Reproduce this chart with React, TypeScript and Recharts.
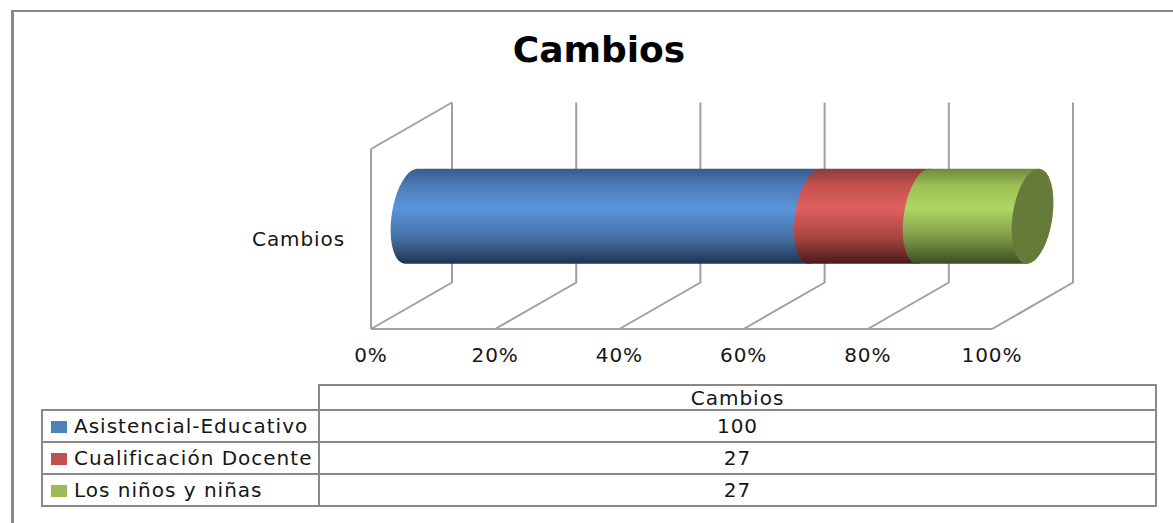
import { Bar, BarChart, CartesianGrid, XAxis, YAxis } from "recharts"

const categories = ["Cambios"]
const seriesNames = ["Asistencial-Educativo", "Cualificación Docente", "Los niños y niñas"]
const seriesValues = [[100], [27], [27]]
const percentTicks = [0, 0.2, 0.4, 0.6, 0.8, 1]

const swatchColors = ["#4f81bd", "#c0504d", "#9bbb59"]
// top edge, upper shade, highlight, lower shade, bottom edge
const cylinderShades = [
  ["#385b8c", "#4d7db8", "#5a94da", "#4672a8", "#1f3354"],
  ["#8a3c3a", "#c4524f", "#de5f5e", "#a84643", "#4a1a19"],
  ["#6c8a3f", "#9cc056", "#b0d665", "#7d9a48", "#3c4d22"],
]
const capColor = "#667a39"

const rows = categories.map((name, i) => {
  const row: Record<string, string | number> = { name }
  seriesNames.forEach((s, j) => {
    row[s] = seriesValues[j][i]
  })
  return row
})

const FONT = "'DejaVu Sans', sans-serif"
const TEXT = "#161616"
const LINE = "#a0a0a0"
const BORDER = "#888888"

// depth of the 3D box, front plane to back wall
const DEPTH_X = 81
const DEPTH_Y = -46.5

const CAP_RX = 20
const CAP_SKEW = -6

function capArc(cx: number, cy: number, ry: number, from: number, to: number) {
  const pts: string[] = []
  for (let i = 0; i <= 32; i++) {
    const t = from + ((to - from) * i) / 32
    const px = cx + CAP_RX * Math.cos(t) + CAP_SKEW * Math.sin(t)
    const py = cy + ry * Math.sin(t)
    pts.push(`${px.toFixed(2)} ${py.toFixed(2)}`)
  }
  return pts
}

function cylinderShape(index: number) {
  const isLast = index === seriesNames.length - 1
  return (props: any) => {
    const { x, y, width, height } = props
    const c0 = x + DEPTH_X / 2
    const c1 = x + width + DEPTH_X / 2
    const cy = y + height / 2 + DEPTH_Y / 2
    const ry = height / 2
    const left = capArc(c0, cy, ry, Math.PI / 2, (3 * Math.PI) / 2)
    const right = capArc(c1, cy, ry, -Math.PI / 2, Math.PI / 2)
    const body = `M${left.join("L")}L${right.join("L")}Z`
    const cap = `M${capArc(c1, cy, ry, 0, 2 * Math.PI).join("L")}Z`
    return (
      <g>
        <path d={body} fill={`url(#cyl-${index})`} />
        {isLast && <path d={cap} fill={capColor} />}
      </g>
    )
  }
}

// gridline running along the floor and up the back wall
function WallLine(props: any) {
  const { x1, y1, y2 } = props
  const top = Math.min(y1, y2)
  const floor = Math.max(y1, y2)
  const isFirst = props.index === 0
  return (
    <g key={props.key}>
      <path
        d={`M${x1} ${floor}L${x1 + DEPTH_X} ${floor + DEPTH_Y}L${x1 + DEPTH_X} ${top + DEPTH_Y}`}
        fill="none"
        stroke={LINE}
        strokeWidth={2}
      />
      {isFirst && (
        <path d={`M${x1} ${top}L${x1 + DEPTH_X} ${top + DEPTH_Y}`} fill="none" stroke={LINE} strokeWidth={2} />
      )}
    </g>
  )
}

const cellBorder = `2px solid ${BORDER}`

function DataTable() {
  const cell = { border: cellBorder, padding: 0, height: 30, textAlign: "center" as const }
  return (
    <table
      style={{
        position: "absolute",
        left: 41,
        top: 384,
        width: 1116,
        borderCollapse: "collapse",
        tableLayout: "fixed",
        fontFamily: FONT,
        fontSize: 20,
        letterSpacing: 1,
        color: TEXT,
        lineHeight: 1,
      }}
    >
      <colgroup>
        <col style={{ width: 277 }} />
        <col />
      </colgroup>
      <tbody>
        <tr>
          <td style={{ padding: 0 }} />
          <td style={{ ...cell, height: 23 }}>{categories[0]}</td>
        </tr>
        {seriesNames.map((name, i) => (
          <tr key={name}>
            <td style={{ ...cell, textAlign: "left", whiteSpace: "nowrap" }}>
              <span
                style={{
                  display: "inline-block",
                  width: 16,
                  height: 12,
                  margin: "0 7px 0 8px",
                  background: swatchColors[i],
                }}
              />
              {name}
            </td>
            <td style={cell}>{seriesValues[i][0]}</td>
          </tr>
        ))}
      </tbody>
    </table>
  )
}

export default function App() {
  return (
    <div style={{ position: "absolute", left: 0, top: 0, width: 1173, height: 523, overflow: "hidden", background: "#fff" }}>
      <div
        style={{
          position: "absolute",
          left: 11,
          top: 10,
          width: 1200,
          height: 600,
          borderLeft: `3px solid ${BORDER}`,
          borderTop: `2px solid ${BORDER}`,
        }}
      />
      <div
        style={{
          position: "absolute",
          left: 0,
          top: 28,
          width: 1198,
          textAlign: "center",
          fontFamily: FONT,
          fontWeight: 700,
          fontSize: 36,
          lineHeight: "44px",
          color: "#000",
        }}
      >
        Cambios
      </div>
      <BarChart
        width={1173}
        height={523}
        data={rows}
        layout="vertical"
        stackOffset="expand"
        margin={{ top: 149, right: 181, bottom: 164, left: 311 }}
        style={{ position: "absolute", left: 0, top: 0 }}
      >
        <defs>
          {cylinderShades.map((shades, i) => (
            <linearGradient key={i} id={`cyl-${i}`} x1="0" y1="0" x2="0" y2="1">
              <stop offset="0%" stopColor={shades[0]} />
              <stop offset="18%" stopColor={shades[1]} />
              <stop offset="42%" stopColor={shades[2]} />
              <stop offset="72%" stopColor={shades[3]} />
              <stop offset="100%" stopColor={shades[4]} />
            </linearGradient>
          ))}
        </defs>
        <CartesianGrid horizontal={false} vertical={WallLine} />
        <XAxis
          type="number"
          domain={[0, 1]}
          ticks={percentTicks}
          tickFormatter={(v: number) => `${Math.round(v * 100)}%`}
          height={30}
          tickLine={false}
          axisLine={{ stroke: LINE, strokeWidth: 2 }}
          tickMargin={13}
          interval={0}
          tick={{ fill: TEXT, fontSize: 20, fontFamily: FONT, letterSpacing: 0.9 }}
        />
        <YAxis
          type="category"
          dataKey="name"
          width={60}
          tickLine={false}
          axisLine={{ stroke: LINE, strokeWidth: 2 }}
          tickMargin={20}
          tick={{ fill: TEXT, fontSize: 20, fontFamily: FONT, letterSpacing: 0.9 }}
        />
        {seriesNames.map((name, i) => (
          <Bar
            key={name}
            dataKey={name}
            stackId="total"
            barSize={95}
            isAnimationActive={false}
            shape={cylinderShape(i)}
          />
        ))}
      </BarChart>
      <DataTable />
    </div>
  )
}
